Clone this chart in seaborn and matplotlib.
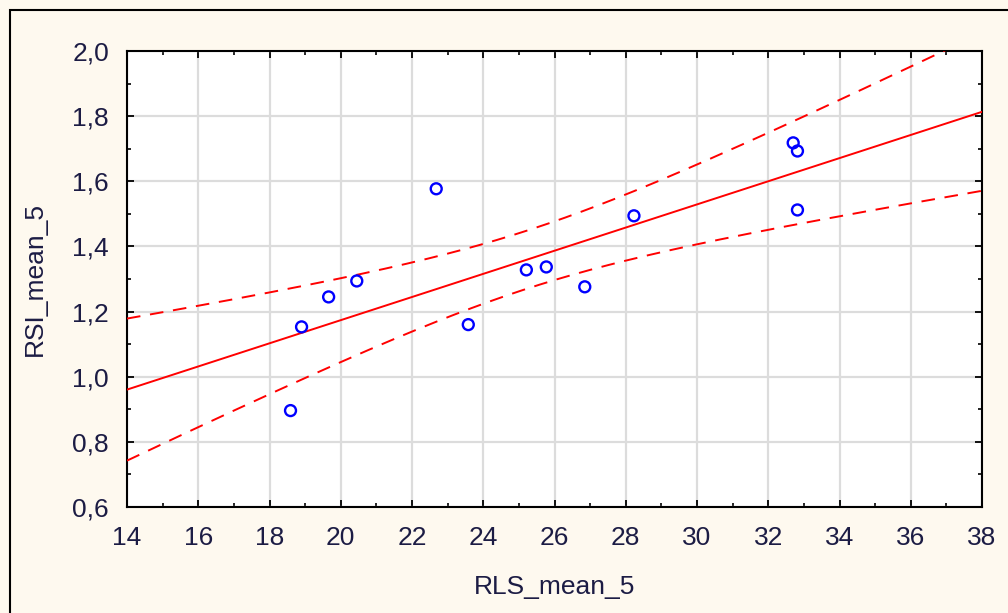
import numpy as np
import pandas as pd
import matplotlib
matplotlib.use("Agg")
import matplotlib.pyplot as plt
from matplotlib.ticker import FuncFormatter, AutoMinorLocator
from matplotlib.patches import Rectangle
import seaborn as sns

# ---- data ----
rls_mean_5 = [18.59, 18.90, 19.66, 20.45, 22.68, 23.58, 25.21, 25.77, 26.85, 28.23, 32.70, 32.82, 32.82]
rsi_mean_5 = [0.896, 1.153, 1.245, 1.294, 1.577, 1.160, 1.328, 1.337, 1.276, 1.494, 1.718, 1.693, 1.512]
x_ticks = [14, 16, 18, 20, 22, 24, 26, 28, 30, 32, 34, 36, 38]
y_ticks = [0.6, 0.8, 1.0, 1.2, 1.4, 1.6, 1.8, 2.0]
x_label = "RLS_mean_5"
y_label = "RSI_mean_5"

sns.set_theme(style="white")
plt.rcParams["font.family"] = ["Liberation Sans", "DejaVu Sans"]
text_color = "#1c1c44"
fs = 19

df = pd.DataFrame({"x": rls_mean_5, "y": rsi_mean_5})

# linear fit with 95% confidence band for the mean
x = np.asarray(rls_mean_5)
y = np.asarray(rsi_mean_5)
n = len(x)
slope, intercept = np.polyfit(x, y, 1)
resid = y - (intercept + slope * x)
s = np.sqrt(np.sum(resid ** 2) / (n - 2))
xm = x.mean()
sxx = np.sum((x - xm) ** 2)
t_crit = 2.201  # t(0.975, df=11)
xg = np.linspace(x_ticks[0], x_ticks[-1], 200)
yg = intercept + slope * xg
half = t_crit * s * np.sqrt(1.0 / n + (xg - xm) ** 2 / sxx)
band = pd.DataFrame({"x": xg, "fit": yg, "lo": yg - half, "hi": yg + half})

fig = plt.figure(figsize=(10.08, 6.13), dpi=100)
fig.patch.set_facecolor("#fef9ef")
fig.patches.append(Rectangle((10 / 1008, -0.1), 1.2, 1 - 10 / 613 + 0.1,
                             transform=fig.transFigure, fill=False,
                             edgecolor="black", linewidth=1.5, zorder=0))
ax = fig.add_axes([127 / 1008, 1 - 507 / 613, (982 - 127) / 1008, (507 - 51) / 613])
ax.set_facecolor("white")

sns.lineplot(data=band, x="x", y="fit", ax=ax, color="#ff0000", linewidth=1.4, zorder=3)
sns.lineplot(data=band, x="x", y="lo", ax=ax, color="#ff0000", linewidth=1.4,
             zorder=3).lines[-1].set_dashes((7, 5))
sns.lineplot(data=band, x="x", y="hi", ax=ax, color="#ff0000", linewidth=1.4,
             zorder=3).lines[-1].set_dashes((7, 5))
sns.scatterplot(data=df, x="x", y="y", ax=ax, marker="o", s=62,
                facecolors="none", edgecolor="#0000ff", linewidth=1.7, zorder=4)

ax.set_xlim(x_ticks[0], x_ticks[-1])
ax.set_ylim(y_ticks[0], y_ticks[-1])
ax.set_xticks(x_ticks)
ax.set_yticks(y_ticks)
ax.xaxis.set_minor_locator(AutoMinorLocator(2))
ax.yaxis.set_minor_locator(AutoMinorLocator(2))
ax.yaxis.set_major_formatter(FuncFormatter(lambda v, p: f"{v:.1f}".replace(".", ",")))
ax.xaxis.set_major_formatter(FuncFormatter(lambda v, p: f"{v:.0f}"))

ax.grid(True, which="major", color="#dcdcdc", linewidth=1.6, zorder=0)
ax.set_axisbelow(True)
for sp in ax.spines.values():
    sp.set_visible(True)
    sp.set_color("black")
    sp.set_linewidth(1.5)

ax.tick_params(which="major", direction="in", length=5, width=1.3, color="black",
               top=True, right=True, bottom=True, left=True,
               labelsize=fs, labelcolor=text_color)
ax.tick_params(axis="x", which="major", pad=14)
ax.tick_params(axis="y", which="major", pad=13)
ax.tick_params(which="minor", direction="in", length=3, width=1.2, color="black",
               top=True, right=True, bottom=True, left=True)

ax.set_xlabel(x_label, fontsize=fs, color=text_color, labelpad=18)
ax.set_ylabel(y_label, fontsize=fs, color=text_color, labelpad=18)

fig.savefig("out.png", dpi=100, facecolor=fig.get_facecolor())
